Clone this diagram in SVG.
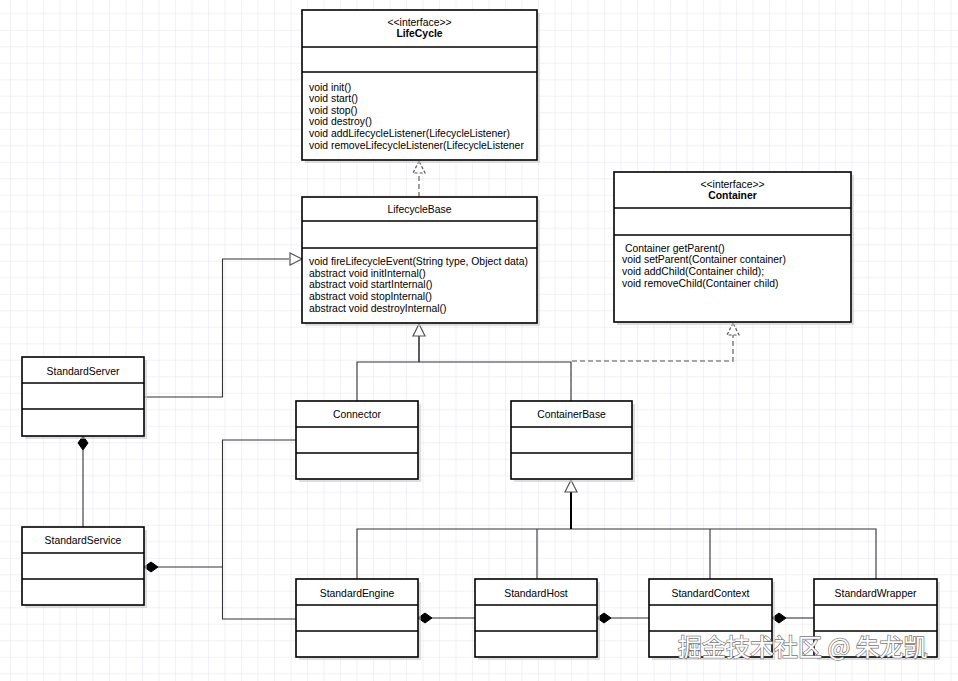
<svg xmlns="http://www.w3.org/2000/svg" width="958" height="681" viewBox="0 0 958 681">
<style>
.box{fill:#fff;stroke:#000;stroke-width:1.6}
.sh{fill:#c8c8c8;opacity:0.6}
.div{stroke:#000;stroke-width:1.6}
.t{font-family:"Liberation Sans",Arial,sans-serif;font-size:10.4px;fill:#000}
.c{text-anchor:middle}
.b{font-weight:bold}
.ln{fill:none;stroke:#333;stroke-width:1.1}
.dash{fill:none;stroke:#888;stroke-width:1.6;stroke-dasharray:5,3}
.tri{fill:#fff;stroke:#555;stroke-width:1.2}
.dia{fill:#000;stroke:#000}
.wm{font-family:"Noto Sans CJK SC","Liberation Sans",sans-serif;font-size:24px;fill:#fff;stroke:#777;stroke-width:1.4;paint-order:stroke}
</style>
<defs>
<pattern id="grid" x="10" y="13.3" width="16.5" height="16.5" patternUnits="userSpaceOnUse">
<path d="M0 0H16.5M0 0V16.5" fill="none" stroke="#e4e4f0" stroke-width="1"/>
</pattern>
</defs>
<rect width="958" height="681" fill="#fff"/>
<rect width="958" height="681" fill="url(#grid)"/>

<g id="connectors">
<!-- LifecycleBase realizes LifeCycle -->
<line class="dash" x1="419" y1="197" x2="419" y2="172"/>
<path class="tri" d="M419 161 L413 173 L425 173 Z" stroke-dasharray="3,2"/>
<!-- Generalization to LifecycleBase from Connector / ContainerBase -->
<path class="ln" d="M357 401 V362 H571 V401"/>
<line x1="419" y1="362" x2="419" y2="335" stroke="#333" stroke-width="1.6"/>
<path class="tri" d="M419 324 L413 336 L425 336 Z"/>
<!-- ContainerBase realizes Container -->
<path class="dash" d="M571 400 V361 H733 V334"/>
<path class="tri" d="M733 323 L727 335 L739 335 Z" stroke-dasharray="3,2"/>
<!-- StandardServer to LifecycleBase -->
<path class="ln" d="M144 397 H222.5 V259 H289"/>
<path class="tri" d="M302 259 L290 253 L290 265 Z"/>
<!-- Connector / Engine links -->
<path class="ln" d="M296 440 H222.5 V619 H296"/>
<!-- StandardService composition -->
<path class="ln" d="M158 567 H222.5"/>
<path class="dia" d="M144 567 L151 562 L158 567 L151 572 Z"/>
<!-- StandardServer composition StandardService -->
<line class="ln" x1="83" y1="450" x2="83" y2="527"/>
<path class="dia" d="M83 436 L88 443 L83 450 L78 443 Z"/>
<!-- Generalization to ContainerBase -->
<path class="ln" d="M357 579 V529 H876 V579 M537 529 V579 M710 529 V579"/>
<line x1="571" y1="529" x2="571" y2="491" stroke="#000" stroke-width="2"/>
<path class="tri" d="M571 480 L565 492 L577 492 Z"/>
<!-- Engine-Host, Host-Context, Context-Wrapper compositions -->
<line class="ln" x1="432" y1="618" x2="475" y2="618"/>
<path class="dia" d="M418 618 L425 613 L432 618 L425 623 Z"/>
<line class="ln" x1="611" y1="618" x2="649" y2="618"/>
<path class="dia" d="M597 618 L604 613 L611 618 L604 623 Z"/>
<line class="ln" x1="786" y1="618" x2="814" y2="618"/>
<path class="dia" d="M772 618 L779 613 L786 618 L779 623 Z"/>
</g>

<g id="LifeCycle">
<rect class="sh" x="305" y="13" width="235" height="150"/>
<rect class="box" x="302" y="10" width="235" height="150"/>
<line class="div" x1="302" y1="47" x2="537" y2="47"/>
<line class="div" x1="302" y1="72" x2="537" y2="72"/>
<text class="t c" x="419.5" y="26">&lt;&lt;interface&gt;&gt;</text>
<text class="t c b" x="419.5" y="37">LifeCycle</text>
<text class="t" x="309" y="90.5">void init()</text>
<text class="t" x="309" y="102">void start()</text>
<text class="t" x="309" y="113.5">void stop()</text>
<text class="t" x="309" y="125">void destroy()</text>
<text class="t" x="309" y="137">void addLifecycleListener(LifecycleListener)</text>
<text class="t" x="309" y="149">void removeLifecycleListener(LifecycleListener</text>
</g>

<g id="LifecycleBase">
<rect class="sh" x="305" y="200" width="235" height="126"/>
<rect class="box" x="302" y="197" width="235" height="126"/>
<line class="div" x1="302" y1="221" x2="537" y2="221"/>
<line class="div" x1="302" y1="248" x2="537" y2="248"/>
<text class="t c" x="419.5" y="213">LifecycleBase</text>
<text class="t" x="309" y="265">void fireLifecycleEvent(String type, Object data)</text>
<text class="t" x="309" y="276.5">abstract void initInternal()</text>
<text class="t" x="309" y="288">abstract void startInternal()</text>
<text class="t" x="309" y="300">abstract void stopInternal()</text>
<text class="t" x="309" y="311.5">abstract void destroyInternal()</text>
</g>

<g id="Container">
<rect class="sh" x="617" y="175" width="237" height="150"/>
<rect class="box" x="614" y="172" width="237" height="150"/>
<line class="div" x1="614" y1="208" x2="851" y2="208"/>
<line class="div" x1="614" y1="235" x2="851" y2="235"/>
<text class="t c" x="732.5" y="188">&lt;&lt;interface&gt;&gt;</text>
<text class="t c b" x="732.5" y="199">Container</text>
<text class="t" x="622" y="252" xml:space="preserve"> Container getParent()</text>
<text class="t" x="622" y="263">void setParent(Container container)</text>
<text class="t" x="622" y="275">void addChild(Container child);</text>
<text class="t" x="622" y="287">void removeChild(Container child)</text>
</g>

<g id="StandardServer">
<rect class="sh" x="25" y="360" width="122" height="79"/>
<rect class="box" x="22" y="357" width="122" height="79"/>
<line class="div" x1="22" y1="383" x2="144" y2="383"/>
<line class="div" x1="22" y1="409" x2="144" y2="409"/>
<text class="t c" x="83" y="375">StandardServer</text>
</g>

<g id="StandardService">
<rect class="sh" x="25" y="530" width="122" height="78"/>
<rect class="box" x="22" y="527" width="122" height="78"/>
<line class="div" x1="22" y1="553" x2="144" y2="553"/>
<line class="div" x1="22" y1="579" x2="144" y2="579"/>
<text class="t c" x="83" y="544">StandardService</text>
</g>

<g id="Connector">
<rect class="sh" x="299" y="404" width="122" height="78"/>
<rect class="box" x="296" y="401" width="122" height="78"/>
<line class="div" x1="296" y1="427" x2="418" y2="427"/>
<line class="div" x1="296" y1="453" x2="418" y2="453"/>
<text class="t c" x="357" y="418">Connector</text>
</g>

<g id="ContainerBase">
<rect class="sh" x="514" y="404" width="121" height="78"/>
<rect class="box" x="511" y="401" width="121" height="78"/>
<line class="div" x1="511" y1="427" x2="632" y2="427"/>
<line class="div" x1="511" y1="453" x2="632" y2="453"/>
<text class="t c" x="571.5" y="418">ContainerBase</text>
</g>

<g id="StandardEngine">
<rect class="sh" x="299" y="582" width="122" height="78"/>
<rect class="box" x="296" y="579" width="122" height="78"/>
<line class="div" x1="296" y1="605" x2="418" y2="605"/>
<line class="div" x1="296" y1="631" x2="418" y2="631"/>
<text class="t c" x="357" y="597">StandardEngine</text>
</g>

<g id="StandardHost">
<rect class="sh" x="478" y="582" width="122" height="78"/>
<rect class="box" x="475" y="579" width="122" height="78"/>
<line class="div" x1="475" y1="605" x2="597" y2="605"/>
<line class="div" x1="475" y1="631" x2="597" y2="631"/>
<text class="t c" x="536" y="597">StandardHost</text>
</g>

<g id="StandardContext">
<rect class="sh" x="652" y="582" width="123" height="78"/>
<rect class="box" x="649" y="579" width="123" height="78"/>
<line class="div" x1="649" y1="605" x2="772" y2="605"/>
<line class="div" x1="649" y1="631" x2="772" y2="631"/>
<text class="t c" x="710.5" y="597">StandardContext</text>
</g>

<g id="StandardWrapper">
<rect class="sh" x="817" y="582" width="123" height="78"/>
<rect class="box" x="814" y="579" width="123" height="78"/>
<line class="div" x1="814" y1="605" x2="937" y2="605"/>
<line class="div" x1="814" y1="631" x2="937" y2="631"/>
<text class="t c" x="875.5" y="597">StandardWrapper</text>
</g>

<text class="wm" x="678" y="656" xml:space="preserve">掘金技术社区 @ 朱龙凯</text>
</svg>
